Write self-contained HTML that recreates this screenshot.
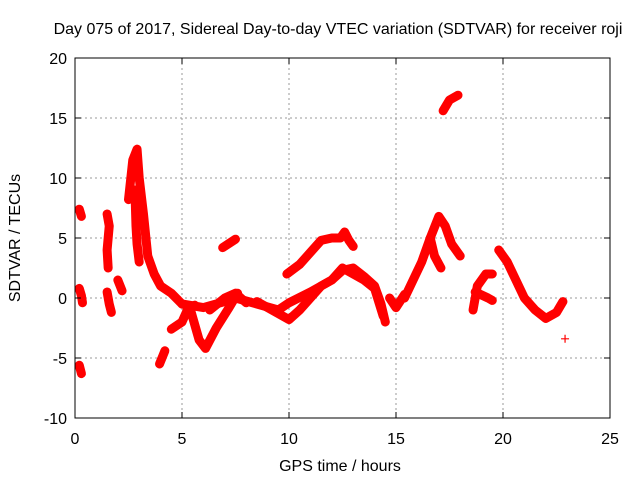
<!DOCTYPE html>
<html><head><meta charset="utf-8"><style>
body{margin:0;background:#fff}
svg{display:block;font-family:"Liberation Sans",sans-serif}
</style></head><body>
<svg id="chart" width="640" height="480" viewBox="0 0 640 480" xmlns="http://www.w3.org/2000/svg">
<text x="338" y="34" font-size="16" text-anchor="middle">Day 075 of 2017, Sidereal Day-to-day VTEC variation (SDTVAR) for receiver roji</text>
<g id="grid"></g>
<g id="marks"></g>
<rect x="75" y="58" width="535" height="360" fill="none" stroke="#000" stroke-width="1"/>
<g id="ticks"></g>
<text x="340" y="471" font-size="16" text-anchor="middle">GPS time / hours</text>
<text x="0" y="0" font-size="16" text-anchor="middle" transform="translate(20,238) rotate(-90)">SDTVAR / TECUs</text>
</svg>
<script>
const xTicks=[0,5,10,15,20,25];
const yTicks=[-10,-5,0,5,10,15,20];
const tracks=[
[[0.2,7.4],[0.3,6.8]],
[[0.2,0.8],[0.3,0.2],[0.35,-0.4]],
[[0.2,-5.6],[0.3,-6.3]],
[[1.5,7],[1.6,6],[1.5,4],[1.55,2.5]],
[[1.5,0.5],[1.6,-0.5],[1.7,-1.2]],
[[2.0,1.5],[2.2,0.6]],
[[2.5,8.2],[2.7,11.5],[2.9,12.4],[3.0,10],[3.2,7],[3.4,3.5],[3.7,2],[4.0,1],[4.5,0.4],[5.0,-0.5]],
[[2.8,9],[2.85,6],[2.9,4.5],[3.0,3]],
[[3.95,-5.5],[4.2,-4.4]],
[[4.5,-2.6],[5.0,-2],[5.3,-0.8],[5.6,-0.6]],
[[5.0,-0.5],[6.0,-0.8],[7.0,-0.3],[7.5,0],[8.5,-0.5],[9.5,-1],[10,-0.4],[11,0.5],[12,1.5],[12.5,2.5],[13,2],[13.5,1.5],[14,0.8],[14.4,-1.5]],
[[5.4,-1],[5.8,-3.5],[6.1,-4.2],[6.6,-2.5],[7.2,-0.8],[7.6,0.4]],
[[6.3,-1],[7.0,0],[7.5,0.4],[8.0,-0.4]],
[[8.5,-0.3],[9.5,-1.3],[10,-1.8],[10.5,-1],[11,0],[11.5,1],[12,1.5],[12.5,2.3],[13,2.5],[13.5,1.8],[14,1],[14.3,-0.5],[14.5,-2]],
[[9.9,2],[10.5,2.8],[11,3.8],[11.5,4.8],[12,5],[12.4,5],[12.6,5.5],[12.8,4.8],[13,4.3]],
[[6.9,4.2],[7.5,4.9]],
[[17.2,15.6],[17.5,16.5],[17.9,16.9]],
[[14.7,0],[15.0,-0.8],[15.4,0.3]],
[[15.4,0],[15.8,1.5],[16.2,3],[16.6,5],[17.0,6.8],[17.3,6],[17.6,4.5],[18,3.5]],
[[16.6,5],[16.8,3.5],[17.1,2.5]],
[[18.6,-1],[18.8,1],[19.2,2],[19.5,2]],
[[18.7,0.5],[19.3,0],[19.5,-0.2]],
[[19.8,4],[20.2,3],[20.6,1.5],[21,0],[21.5,-1],[22,-1.7],[22.5,-1.2],[22.8,-0.3]],
[[22.9,-3.4]]
];
const NS='http://www.w3.org/2000/svg';
function X(t){return 75+t*21.4;}
function Y(v){return 298-v*12;}
const grid=document.getElementById('grid'),ticks=document.getElementById('ticks'),marks=document.getElementById('marks');
function mk(tag,attrs,parent){const e=document.createElementNS(NS,tag);for(const k in attrs)e.setAttribute(k,attrs[k]);parent.appendChild(e);return e;}
xTicks.forEach(t=>{
 if(t>0&&t<25){const g=mk('line',{x1:X(t),x2:X(t),y1:58,y2:418,stroke:'#999','stroke-dasharray':'2,3'},grid);
 
 }
 mk('line',{x1:X(t),x2:X(t),y1:418,y2:412,stroke:'#000'},ticks);
 mk('line',{x1:X(t),x2:X(t),y1:58,y2:64,stroke:'#000'},ticks);
 const l=mk('text',{x:X(t),y:444,'font-size':16,'text-anchor':'middle'},ticks);l.textContent=t;
 
 
});
yTicks.forEach(v=>{
 if(v>-10&&v<20){const g=mk('line',{x1:75,x2:610,y1:Y(v),y2:Y(v),stroke:'#999','stroke-dasharray':'2,3'},grid);
 
 }
 mk('line',{x1:75,x2:81,y1:Y(v),y2:Y(v),stroke:'#000'},ticks);
 mk('line',{x1:610,x2:604,y1:Y(v),y2:Y(v),stroke:'#000'},ticks);
 const l=mk('text',{x:67,y:Y(v)+6,'font-size':16,'text-anchor':'end'},ticks);l.textContent=v;
 
 
});
tracks.forEach(tr=>{
 if(tr.length>1){const p=mk('polyline',{points:tr.map(d=>X(d[0])+','+Y(d[1])).join(' '),fill:'none',stroke:'#f00','stroke-width':9,'stroke-linejoin':'round','stroke-linecap':'round'},marks);
 
 }
 tr.forEach(d=>{
  const m=mk('path',{d:`M${X(d[0])-4},${Y(d[1])}h8M${X(d[0])},${Y(d[1])-4}v8`,stroke:'#f00','stroke-width':1.2},marks);
  
  
 });
});
</script>
</body></html>
